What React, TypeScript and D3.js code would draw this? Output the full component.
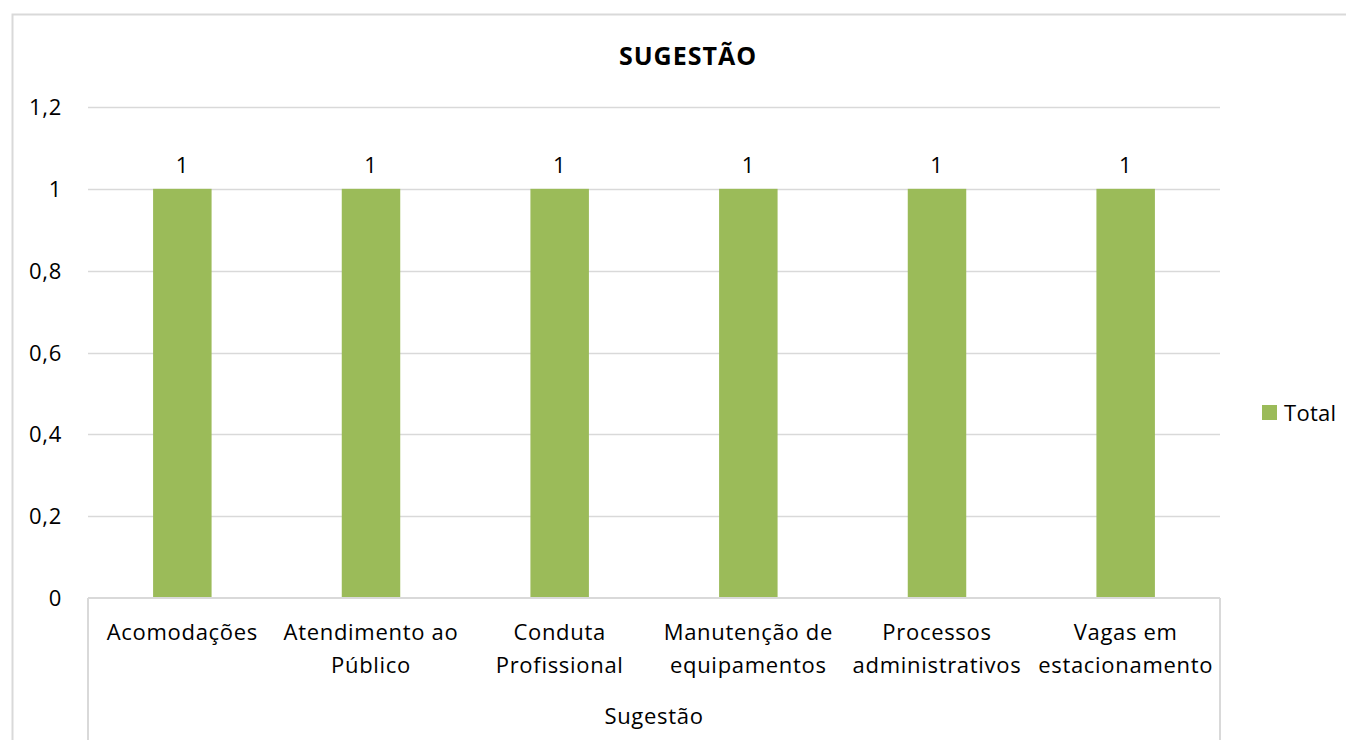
import React, { useEffect, useRef } from 'react';
import * as d3 from 'd3';

const categories: string[][] = [
  ['Acomodações'],
  ['Atendimento ao', 'Público'],
  ['Conduta', 'Profissional'],
  ['Manutenção de', 'equipamentos'],
  ['Processos', 'administrativos'],
  ['Vagas em', 'estacionamento'],
];
const totals = [1, 1, 1, 1, 1, 1];
const yTicks = [0, 0.2, 0.4, 0.6, 0.8, 1, 1.2];

const App: React.FC = () => {
  const svgRef = useRef<SVGSVGElement>(null);

  useEffect(() => {
    const svg = d3.select(svgRef.current);
    svg.selectAll('*').remove();

    const W = 1346;
    const H = 740;
    const font = '"Open Sans", "Noto Sans", sans-serif';
    const fs = '22px';
    const textColor = '#000';
    const gridColor = '#d9d9d9';
    const barColor = '#9bbb59';

    const left = 88;
    const right = 1220;
    const top = 107;
    const bottom = 598;

    // Chart border
    svg.append('rect')
      .attr('x', 12.5).attr('y', 14.5)
      .attr('width', W).attr('height', H)
      .attr('fill', 'white')
      .attr('stroke', gridColor).attr('stroke-width', 2);

    const x = d3.scaleBand<number>()
      .domain(d3.range(categories.length))
      .range([left, right])
      .paddingInner(0.69)
      .paddingOuter(0.345);

    const xCat = d3.scaleBand<number>()
      .domain(d3.range(categories.length))
      .range([left, right]);

    const y = d3.scaleLinear().domain([0, 1.2]).range([bottom, top]);

    const label = (sel: d3.Selection<SVGTextElement, any, any, any>) =>
      sel.style('font-family', font)
        .style('font-size', fs)
        .style('letter-spacing', '0.7px')
        .attr('fill', textColor);

    // Grid lines
    svg.append('g')
      .selectAll('line')
      .data(yTicks.filter(t => t > 0))
      .enter()
      .append('line')
      .attr('x1', left).attr('x2', right)
      .attr('y1', d => Math.round(y(d)) + 0.5)
      .attr('y2', d => Math.round(y(d)) + 0.5)
      .attr('stroke', gridColor).attr('stroke-width', 1.5);

    // Y tick labels
    svg.append('g')
      .selectAll('text')
      .data(yTicks)
      .enter()
      .append('text')
      .attr('x', 62)
      .attr('y', d => y(d) + 8)
      .attr('text-anchor', 'end')
      .call(label)
      .text(d => d3.format('.1~f')(d).replace('.', ','));

    // Bars
    svg.append('g')
      .selectAll('rect')
      .data(totals)
      .enter()
      .append('rect')
      .attr('x', (_, i) => x(i)!)
      .attr('y', d => y(d))
      .attr('width', x.bandwidth())
      .attr('height', d => bottom - y(d))
      .attr('fill', barColor);

    // Data labels
    svg.append('g')
      .selectAll('text')
      .data(totals)
      .enter()
      .append('text')
      .attr('x', (_, i) => x(i)! + x.bandwidth() / 2)
      .attr('y', d => y(d) - 16)
      .attr('text-anchor', 'middle')
      .call(label)
      .text(d => String(d));

    // Axis line + category box
    const axisG = svg.append('g').attr('stroke', gridColor).attr('stroke-width', 2);
    axisG.append('line').attr('x1', left).attr('x2', right).attr('y1', bottom).attr('y2', bottom);
    axisG.append('line').attr('x1', left).attr('x2', left).attr('y1', bottom).attr('y2', H);
    axisG.append('line').attr('x1', right).attr('x2', right).attr('y1', bottom).attr('y2', H);

    // Category labels
    categories.forEach((lines, i) => {
      const t = svg.append('text')
        .attr('text-anchor', 'middle')
        .call(label);
      lines.forEach((ln, j) => {
        t.append('tspan')
          .attr('x', xCat(i)! + xCat.bandwidth() / 2)
          .attr('y', 640 + j * 33)
          .text(ln);
      });
    });

    // Axis title
    svg.append('text')
      .attr('x', (left + right) / 2)
      .attr('y', 724)
      .attr('text-anchor', 'middle')
      .call(label)
      .text('Sugestão');

    // Title
    svg.append('text')
      .attr('x', 688)
      .attr('y', 65)
      .attr('text-anchor', 'middle')
      .style('font-family', font)
      .style('font-size', '25px')
      .style('font-weight', 'bold')
      .style('letter-spacing', '1px')
      .attr('fill', textColor)
      .text('SUGESTÃO');

    // Legend
    const legend = svg.append('g').attr('transform', 'translate(1262,405)');
    legend.append('rect').attr('width', 15).attr('height', 15).attr('fill', barColor);
    legend.append('text')
      .attr('x', 22).attr('y', 16)
      .call(label)
      .style('letter-spacing', '0.3px')
      .text('Total');
  }, []);

  return (
    <div style={{ position: 'absolute', left: 0, top: 0 }}>
      <svg ref={svgRef} width={1346} height={740} style={{ display: 'block' }}></svg>
    </div>
  );
};

export default App;
